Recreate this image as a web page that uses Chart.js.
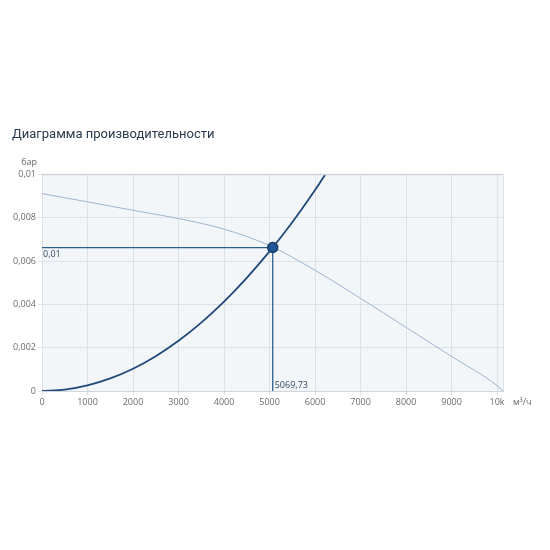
<!DOCTYPE html>
<html>
<head>
<meta charset="utf-8">
<script src="https://cdn.jsdelivr.net/npm/chart.js@4"></script>
<style>
  html, body { margin: 0; padding: 0; background: #fff; }
  #wrap { width: 550px; height: 550px; }
</style>
</head>
<body>
<div id="wrap"><canvas id="perf"></canvas></div>
<script>
const titleText = 'Диаграмма производительности';
const yUnit = 'бар';
const xUnit = 'м³/ч';

// system curve (dark)
const sysX = [0, 500, 1000, 1500, 2000, 2500, 3000, 3500, 4000, 4500, 5000, 5500, 6000, 6300];
const sysY = [0, 0.000065, 0.000258, 0.00058, 0.00103, 0.00161, 0.00232, 0.00316, 0.00413, 0.00523, 0.00645, 0.0078, 0.00929, 0.01025];

// pump curve (light)
const pumpX = [0, 1000, 2000, 3000, 4000, 5000, 6000, 7000, 8000, 9000, 10000, 10130];
const pumpY = [0.00912, 0.00874, 0.00835, 0.00797, 0.00748, 0.00672, 0.00558, 0.00428, 0.00294, 0.0016, 0.00025, 0];

// operating point
const opX = 5069.73;
const opY = 0.00663;
const opXText = '5069,73';
const opYText = '0,01';

const xTicks = [0, 1000, 2000, 3000, 4000, 5000, 6000, 7000, 8000, 9000, 10000];
const xTickText = ['0', '1000', '2000', '3000', '4000', '5000', '6000', '7000', '8000', '9000', '10k'];
const yTicks = [0, 0.002, 0.004, 0.006, 0.008, 0.01];
const yTickText = ['0', '0,002', '0,004', '0,006', '0,008', '0,01'];

const font = '"Open Sans", "Noto Sans", sans-serif';
const dark = '#1f4a78';
const light = '#9db4cc';

const pts = (xs, ys) => xs.map((x, i) => ({ x: x, y: ys[i] }));

const extras = {
  id: 'extras',
  beforeDraw(chart) {
    const a = chart.chartArea, c = chart.ctx;
    c.save();
    c.fillStyle = '#f3f6f9';
    c.fillRect(a.left, a.top, a.right - a.left, a.bottom - a.top);
    c.restore();
  },
  afterDatasetsDraw(chart) {
    const a = chart.chartArea, c = chart.ctx;
    const xs = chart.scales.x, ys = chart.scales.y;
    c.save();
    // frame
    c.strokeStyle = '#d0d5db';
    c.lineWidth = 1.5;
    c.beginPath();
    c.moveTo(a.left, a.top);
    c.lineTo(a.right, a.top);
    c.stroke();
    c.lineWidth = 1;
    c.strokeStyle = '#dde2e8';
    c.beginPath();
    c.moveTo(a.right + 0.5, a.top);
    c.lineTo(a.right + 0.5, a.bottom);
    c.stroke();
    // value labels
    c.fillStyle = '#34495e';
    c.font = '9px ' + font;
    c.textAlign = 'left';
    c.textBaseline = 'top';
    c.fillText(opYText, a.left + 1, ys.getPixelForValue(opY) + 2);
    c.textBaseline = 'bottom';
    c.fillText(opXText, xs.getPixelForValue(opX) + 2, a.bottom - 1);
    // units
    c.fillStyle = '#666';
    c.font = '9px ' + font;
    c.textAlign = 'right';
    c.textBaseline = 'middle';
    c.fillText(yUnit, a.left - 5, a.top - 12);
    c.textAlign = 'left';
    c.fillText(xUnit, a.right + 10, a.bottom + 11);
    c.restore();
  }
};

new Chart(document.getElementById('perf'), {
  type: 'line',
  data: {
    datasets: [
      {
        type: 'scatter',
        data: [{ x: opX, y: opY }],
        pointRadius: 5,
        pointBackgroundColor: '#1d5597',
        pointBorderColor: '#1a3c63',
        pointBorderWidth: 1.5,
        order: 0
      },
      {
        data: pts(sysX, sysY),
        borderColor: dark,
        borderWidth: 1.8,
        pointRadius: 0,
        cubicInterpolationMode: 'monotone',
        order: 1
      },
      {
        data: [{ x: 0, y: opY }, { x: opX, y: opY }, { x: opX, y: 0 }],
        borderColor: '#2d5d8e',
        borderWidth: 1.3,
        pointRadius: 0,
        tension: 0,
        order: 2
      },
      {
        data: pts(pumpX, pumpY),
        borderColor: light,
        borderWidth: 1,
        pointRadius: 0,
        cubicInterpolationMode: 'monotone',
        order: 3
      }
    ]
  },
  options: {
    responsive: true,
    maintainAspectRatio: false,
    animation: false,
    layout: { padding: { top: 0, left: 12, right: 47, bottom: 134 } },
    plugins: {
      legend: { display: false },
      tooltip: { enabled: false },
      title: {
        display: true,
        text: titleText,
        align: 'start',
        color: '#2a3a4c',
        font: { family: 'Roboto, "Open Sans", sans-serif', size: 13, weight: 'normal' },
        padding: { top: 127, bottom: 32 }
      }
    },
    scales: {
      x: {
        type: 'linear',
        min: 0,
        max: 10130,
        afterFit: s => { s.height = 25; },
        afterBuildTicks: s => { s.ticks = xTicks.map(v => ({ value: v })); },
        grid: { color: '#dde2e8', tickLength: 4 },
        border: { color: '#cfd5dc' },
        ticks: {
          color: '#6b6b6b',
          font: { family: font, size: 9 },
          maxRotation: 0,
          padding: 2,
          callback: v => {
            const i = xTicks.indexOf(v);
            return i >= 0 ? xTickText[i] : '';
          }
        }
      },
      y: {
        min: 0,
        max: 0.01,
        afterFit: s => { s.width = 30; },
        grid: { color: '#dde2e8', tickLength: 4 },
        border: { color: '#dde2e8' },
        ticks: {
          stepSize: 0.001,
          color: '#6b6b6b',
          font: { family: font, size: 9 },
          padding: 2,
          callback: v => {
            const i = yTicks.findIndex(t => Math.abs(t - v) < 1e-7);
            return i >= 0 ? yTickText[i] : null;
          }
        }
      }
    }
  },
  plugins: [extras]
});
</script>
</body>
</html>
